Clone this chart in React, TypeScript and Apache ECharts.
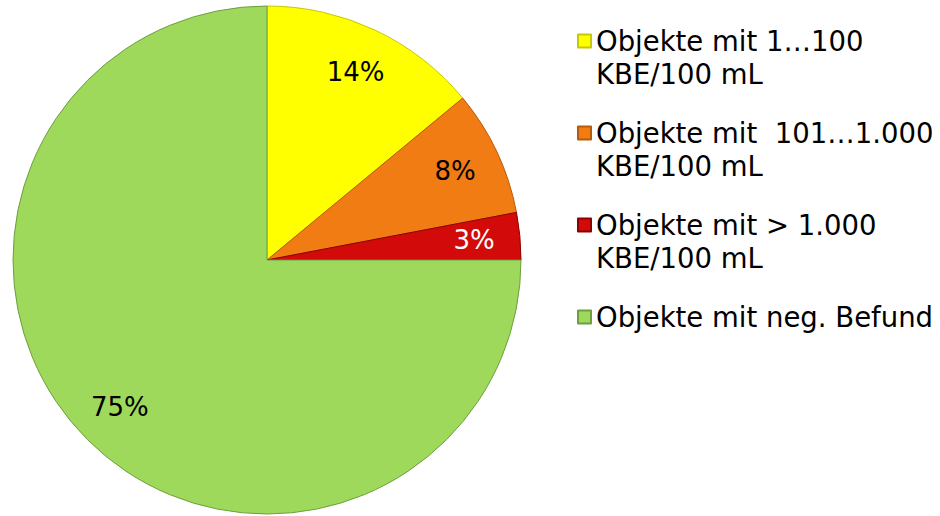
import React, { useEffect, useRef } from "react";
import * as echarts from "echarts";

const categories = [
  "Objekte mit 1…100\nKBE/100 mL",
  "Objekte mit  101…1.000\nKBE/100 mL",
  "Objekte mit > 1.000\nKBE/100 mL",
  "Objekte mit neg. Befund",
];
const values = [14, 8, 3, 75];
const colors = ["#FFFF00", "#F27C14", "#D20A0A", "#9ED95C"];
const borderColors = ["#C8C800", "#B85A0A", "#8E0000", "#6E9E3E"];
const labelColors = ["#000000", "#000000", "#FFFFFF", "#000000"];

const FONT = "Verdana, 'DejaVu Sans', sans-serif";

// legend icon: square at the top of a tall box (for two-line entries)
const ICON_TOP = "path://M0,0h13v13h-13z M0,46";
const ICON_MID = "path://M0,0h13v13h-13z";

export default function App() {
  const ref = useRef<HTMLDivElement>(null);

  useEffect(() => {
    document.body.style.margin = "0";
    if (!ref.current) return;
    const chart = echarts.init(ref.current, null, { renderer: "svg" });

    const mainData = categories.map((name, i) => ({
      name,
      value: values[i],
      itemStyle: { color: colors[i], borderColor: borderColors[i], borderWidth: 1 },
    }));
    const labelData = categories.map((name, i) => ({
      name,
      value: values[i],
      label: { color: labelColors[i] },
    }));

    chart.setOption({
      animation: false,
      backgroundColor: "#FFFFFF",
      legend: {
        orient: "vertical",
        left: 572,
        top: 19.5,
        itemWidth: 13,
        itemHeight: 46,
        itemGap: 26,
        symbolKeepAspect: true,
        textStyle: {
          fontFamily: FONT,
          fontSize: 27.5,
          lineHeight: 33,
          color: "#000000",
        },
        data: categories.map((name, i) => ({
          name,
          icon: i < 3 ? ICON_TOP : ICON_MID,
        })),
      },
      series: [
        {
          type: "pie",
          center: [267, 260],
          radius: [0, 254],
          startAngle: 90,
          clockwise: true,
          avoidLabelOverlap: false,
          label: { show: false },
          labelLine: { show: false },
          emphasis: { disabled: true },
          data: mainData,
        },
        {
          type: "pie",
          center: [267, 260],
          radius: [156, 254],
          startAngle: 90,
          clockwise: true,
          silent: true,
          avoidLabelOverlap: false,
          itemStyle: { color: "transparent", borderWidth: 0 },
          label: {
            show: true,
            position: "inside",
            formatter: "{c}%",
            fontFamily: FONT,
            fontSize: 26,
          },
          labelLine: { show: false },
          emphasis: { disabled: true },
          data: labelData,
        },
      ],
    });

    return () => {
      chart.dispose();
    };
  }, []);

  return <div ref={ref} style={{ width: 940, height: 516 }} />;
}
